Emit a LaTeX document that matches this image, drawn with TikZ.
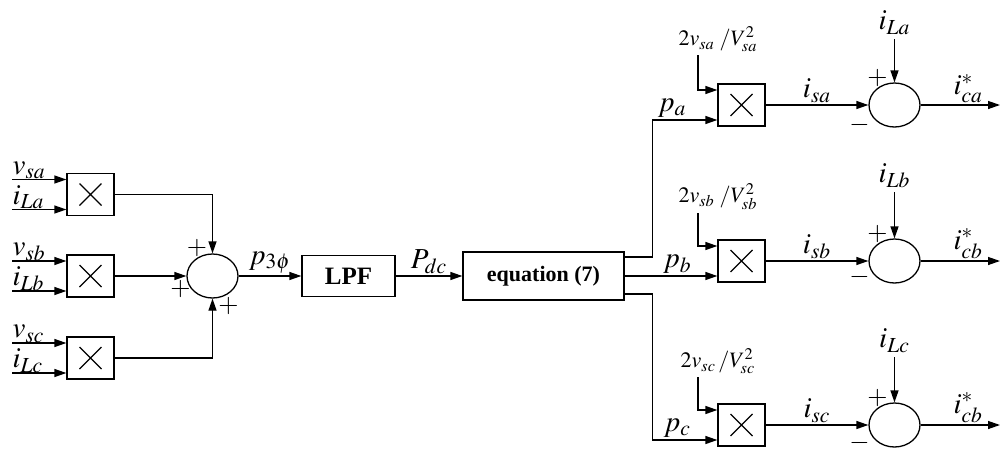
\documentclass[tikz,border=0pt]{standalone}
\usepackage{mathptmx}
\usepackage{fontspec}
\setmainfont{Liberation Serif}
\usetikzlibrary{arrows.meta, shapes.geometric}

\begin{document}
\begin{tikzpicture}[x=0.5pt, y=-0.5pt, line width=0.65pt,
  mul/.style={rectangle, draw, minimum width=23.5pt, minimum height=21pt, inner sep=0pt,
    path picture={\draw[line width=0.6pt]
      ([shift={(-5.5pt,-5.5pt)}]path picture bounding box.center) -- ++(11pt,11pt)
      ([shift={(-5.5pt,5.5pt)}]path picture bounding box.center) -- ++(11pt,-11pt);}},
  sum/.style={ellipse, draw, minimum width=25.5pt, minimum height=22pt, inner sep=0pt},
  blk/.style={rectangle, draw, inner sep=0pt},
  lbl/.style={font=\fontsize{14.5}{16}\selectfont, inner sep=1pt},
  gain/.style={font=\fontsize{11}{12}\selectfont, inner sep=1.5pt, anchor=south},
  sgn/.style={font=\fontsize{13}{13}\selectfont, inner sep=0pt},
  arr/.style={-{Triangle[length=6pt, width=4pt]}}]
  \useasboundingbox (0,0) rectangle (1001,450);

  \node[mul] (mulA) at (90.5,194.5) {};
  \node[mul] (mulB) at (90.5,276) {};
  \node[mul] (mulC) at (90.5,358) {};
  \coordinate (vA) at (12,179.5);
  \coordinate (iA) at (12,209.5);
  \coordinate (vB) at (12,261);
  \coordinate (iB) at (12,291);
  \coordinate (vC) at (12,343);
  \coordinate (iC) at (12,373);
  \draw[arr] (vA) node[lbl, above right, inner sep=0pt]{$v_{sa}$} -- (vA -| mulA.west);
  \draw[arr] (iA) node[lbl, above right, inner sep=0pt]{$i_{La}$} -- (iA -| mulA.west);
  \draw[arr] (vB) node[lbl, above right, inner sep=0pt]{$v_{sb}$} -- (vB -| mulB.west);
  \draw[arr] (iB) node[lbl, above right, inner sep=0pt]{$i_{Lb}$} -- (iB -| mulB.west);
  \draw[arr] (vC) node[lbl, above right, inner sep=0pt]{$v_{sc}$} -- (vC -| mulC.west);
  \draw[arr] (iC) node[lbl, above right, inner sep=0pt]{$i_{Lc}$} -- (iC -| mulC.west);

  \node[sum] (sumL) at (212.5,276) {};
  \draw[arr] (mulA) -| (sumL);
  \draw[arr] (mulB) -- (sumL);
  \draw[arr] (mulC) -| (sumL);
  \node[sgn] at ([shift={(-15.5,-28)}]sumL.center) {$+$};
  \node[sgn] at ([shift={(-32,13)}]sumL.center) {$+$};
  \node[sgn] at ([shift={(16,30)}]sumL.center) {$+$};

  \node[blk, minimum width=46.5pt, minimum height=20.5pt,
        font=\fontsize{12.5}{14}\selectfont\bfseries] (lpf) at (348.5,276) {LPF};
  \node[blk, minimum width=80.5pt, minimum height=24pt,
        font=\fontsize{11}{13}\selectfont\bfseries] (eq) at (543.5,276) {equation (7)};
  \draw[arr] (sumL) -- node[lbl, above]{$p_{3\phi}$} (lpf);
  \draw[arr] (lpf) -- node[lbl, above]{$P_{dc}$} (eq);

  \node[mul] (mulPa) at (741.5,105) {};
  \node[mul] (mulPb) at (741.5,261) {};
  \node[mul] (mulPc) at (741.5,425) {};
  \draw[arr] ([yshift=9.5pt]eq.east) -- ++(28,0) |- node[lbl, above, pos=0.65]{$p_a$} ([yshift=-7.5pt]mulPa.west);
  \draw[arr] (eq.east) -- node[lbl, above, pos=0.57]{$p_b$} ([yshift=-7.5pt]mulPb.west);
  \draw[arr] ([yshift=-9pt]eq.east) -- ++(28,0) |- node[lbl, above, pos=0.69]{$p_c$} ([yshift=-7.5pt]mulPc.west);

  \node[gain] (gA) at (718,55) {$2v_{sa}\;/V_{sa}^2$};
  \node[gain] (gB) at (718,213) {$2v_{sb}\;/V_{sb}^2$};
  \node[gain] (gC) at (718,377) {$2v_{sc}\,/V_{sc}^2$};
  \draw[arr] ([xshift=-10pt]gA.south) |- ([yshift=7.5pt]mulPa.west);
  \draw[arr] ([xshift=-10pt]gB.south) |- ([yshift=7.5pt]mulPb.west);
  \draw[arr] ([xshift=-10pt]gC.south) |- ([yshift=7.5pt]mulPc.west);

  \node[sum] (sumA) at (894.5,105) {};
  \node[sum] (sumB) at (894.5,261) {};
  \node[sum] (sumC) at (894.5,425) {};
  \draw[arr] (mulPa) -- node[lbl, above]{$i_{sa}$} (sumA);
  \draw[arr] (mulPb) -- node[lbl, above]{$i_{sb}$} (sumB);
  \draw[arr] (mulPc) -- node[lbl, above]{$i_{sc}$} (sumC);

  \node[lbl, anchor=south, inner sep=2pt] (iLa) at (894.5,39) {$i_{La}$};
  \node[lbl, anchor=south, inner sep=2pt] (iLb) at (894.5,192) {$i_{Lb}$};
  \node[lbl, anchor=south, inner sep=2pt] (iLc) at (894.5,357) {$i_{Lc}$};
  \draw[arr] (iLa) -- (sumA);
  \draw[arr] (iLb) -- (sumB);
  \draw[arr] (iLc) -- (sumC);

  \node[sgn] at ([shift={(-17,-27)}]sumA.center) {$+$};
  \node[sgn] at ([shift={(-35,20)}]sumA.center) {$-$};
  \node[sgn] at ([shift={(-17,-27)}]sumB.center) {$+$};
  \node[sgn] at ([shift={(-35,16)}]sumB.center) {$-$};
  \node[sgn] at ([shift={(-17,-27)}]sumC.center) {$+$};
  \node[sgn] at ([shift={(-35,18)}]sumC.center) {$-$};

  \coordinate (oA) at (1000,105);
  \coordinate (oB) at (1000,261);
  \coordinate (oC) at (1000,425);
  \draw[arr] (sumA) -- node[lbl, above, pos=0.6]{$i_{ca}^{*}$} (oA);
  \draw[arr] (sumB) -- node[lbl, above, pos=0.6]{$i_{cb}^{*}$} (oB);
  \draw[arr] (sumC) -- node[lbl, above, pos=0.6]{$i_{cb}^{*}$} (oC);
\end{tikzpicture}
\end{document}
